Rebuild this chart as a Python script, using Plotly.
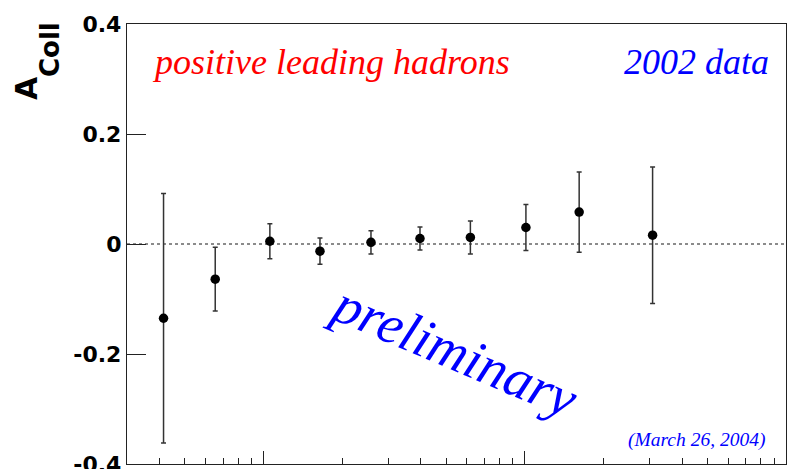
import plotly.graph_objects as go

# Data (log-scale x, asymmetry values with errors)
x_vals = [0.414, 0.653, 1.057, 1.644, 2.577, 3.97, 6.19, 10.1, 16.15, 30.85]
a_coll = [-0.135, -0.064, 0.005, -0.013, 0.003, 0.010, 0.012, 0.030, 0.058, 0.016]
a_err = [0.227, 0.058, 0.032, 0.024, 0.021, 0.021, 0.030, 0.042, 0.073, 0.124]

y_ticks = [-0.4, -0.2, 0, 0.2, 0.4]
y_ticktext = ["-0.4", "-0.2", "0", "0.2", "0.4"]
x_major = [1, 10, 100]
x_minor = [0.4, 0.5, 0.6, 0.7, 0.8, 0.9,
           2, 3, 4, 5, 6, 7, 8, 9,
           20, 30, 40, 50, 60, 70, 80, 90]

fig = go.Figure()
fig.add_trace(go.Scatter(
    x=x_vals, y=a_coll, mode="markers",
    marker=dict(color="black", size=9.5),
    error_y=dict(type="data", array=a_err, visible=True,
                 color="#333333", thickness=1.5, width=2.5),
    showlegend=False,
))

fig.add_shape(type="line", xref="paper", x0=0, x1=1, yref="y", y0=0, y1=0,
              line=dict(color="#666666", width=1.3, dash="dot"), layer="below")

axis_line = dict(showline=True, linecolor="#222222", linewidth=1.3, mirror=True,
                 showgrid=False, zeroline=False, automargin=False)

fig.update_xaxes(
    type="log", range=[-0.5228787, 2.0],
    tickmode="array", tickvals=x_major, ticks="inside", ticklen=13,
    tickcolor="#222222", tickwidth=1.2, showticklabels=False,
    minor=dict(tickmode="array", tickvals=x_minor, ticks="inside", ticklen=6,
               tickcolor="#222222", tickwidth=1.2, showgrid=False),
    **axis_line,
)
fig.update_yaxes(
    range=[-0.4, 0.4], tickmode="array", tickvals=y_ticks, ticktext=y_ticktext,
    ticks="inside", ticklen=19, tickcolor="#222222", tickwidth=1.2,
    ticklabeloverflow="allow",
    tickfont=dict(family="DejaVu Sans", size=22, color="black", weight="bold"),
    **axis_line,
)

serif = "Liberation Serif"
anns = [
    dict(text="positive leading hadrons", x=0.0349, y=0.9136, xanchor="left", yanchor="middle",
         font=dict(family=serif, size=36, color="#ff0000", style="italic")),
    dict(text="2002 data", x=0.9772, y=0.9136, xanchor="right", yanchor="middle",
         font=dict(family=serif, size=36, color="#0000ff", style="italic")),
    dict(text="preliminary", x=0.4955, y=0.257, xanchor="center", yanchor="middle", textangle=23,
         font=dict(family=serif, size=55, color="#0000ff", style="italic")),
    dict(text="(March 26, 2004)", x=0.971, y=0.0545, xanchor="right", yanchor="middle",
         font=dict(family=serif, size=19.5, color="#0000ff", style="italic")),
    dict(text="A", x=-0.1533, y=0.8545, xanchor="center", yanchor="middle", textangle=-90,
         font=dict(family="DejaVu Sans", size=30, color="black", weight="bold")),
    dict(text="Coll", x=-0.1168, y=0.941, xanchor="center", yanchor="middle", textangle=-90,
         font=dict(family="DejaVu Sans", size=26, color="black", weight="bold")),
]
for a in anns:
    fig.add_annotation(xref="paper", yref="paper", showarrow=False, **a)

fig.update_layout(
    width=788, height=469,
    margin=dict(l=127, r=2, t=24, b=5, autoexpand=False),
    paper_bgcolor="white", plot_bgcolor="white",
)

fig.write_html("out.html")
